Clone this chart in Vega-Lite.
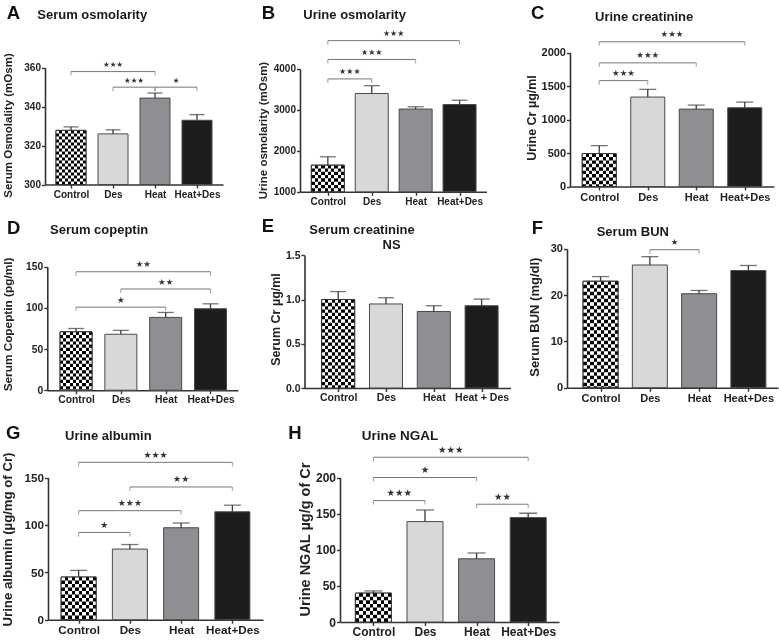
{
"$schema": "https://vega.github.io/schema/vega-lite/v6.json",
"padding": 0,
"background": "white",
"config": {
  "font": "Liberation Sans",
  "view": {"stroke": null, "fill": "white"},
  "axis": {"domainColor": "#333333", "domainWidth": 1.6, "tickColor": "#333333", "tickWidth": 1.4, "tickSize": 3.5, "labelColor": "#222222", "labelFontWeight": "bold", "labelFont": "Liberation Sans", "titleFont": "Liberation Sans", "titleFontWeight": "bold", "titleColor": "#222222", "grid": false, "labelPadding": 1, "labelFlush": false, "labelOverlap": false}
},
"datasets": {
  "bars": [
    {"panel": "A", "group": "Control", "value": 327.8, "err": 1.8},
    {"panel": "A", "group": "Des", "value": 326, "err": 2.1},
    {"panel": "A", "group": "Heat", "value": 344.4, "err": 2.6},
    {"panel": "A", "group": "Heat+Des", "value": 333, "err": 2.9},
    {"panel": "B", "group": "Control", "value": 1650, "err": 205},
    {"panel": "B", "group": "Des", "value": 3400, "err": 190},
    {"panel": "B", "group": "Heat", "value": 3020, "err": 55},
    {"panel": "B", "group": "Heat+Des", "value": 3130, "err": 105},
    {"panel": "C", "group": "Control", "value": 490, "err": 120},
    {"panel": "C", "group": "Des", "value": 1335, "err": 115},
    {"panel": "C", "group": "Heat", "value": 1155, "err": 60},
    {"panel": "C", "group": "Heat+Des", "value": 1175, "err": 85},
    {"panel": "D", "group": "Control", "value": 71, "err": 4},
    {"panel": "D", "group": "Des", "value": 68, "err": 4.8},
    {"panel": "D", "group": "Heat", "value": 88.5, "err": 6},
    {"panel": "D", "group": "Heat+Des", "value": 99, "err": 6},
    {"panel": "E", "group": "Control", "value": 1.0, "err": 0.09},
    {"panel": "E", "group": "Des", "value": 0.95, "err": 0.07},
    {"panel": "E", "group": "Heat", "value": 0.865, "err": 0.065},
    {"panel": "E", "group": "Heat + Des", "value": 0.93, "err": 0.075},
    {"panel": "F", "group": "Control", "value": 23, "err": 1},
    {"panel": "F", "group": "Des", "value": 26.5, "err": 1.8},
    {"panel": "F", "group": "Heat", "value": 20.3, "err": 0.7},
    {"panel": "F", "group": "Heat+Des", "value": 25.3, "err": 1.1},
    {"panel": "G", "group": "Control", "value": 45, "err": 7},
    {"panel": "G", "group": "Des", "value": 74.5, "err": 4.8},
    {"panel": "G", "group": "Heat", "value": 97, "err": 5},
    {"panel": "G", "group": "Heat+Des", "value": 113.8, "err": 7},
    {"panel": "H", "group": "Control", "value": 40, "err": 3},
    {"panel": "H", "group": "Des", "value": 139, "err": 16},
    {"panel": "H", "group": "Heat", "value": 87.5, "err": 8},
    {"panel": "H", "group": "Heat+Des", "value": 144.5, "err": 6}
  ],
  "brackets": [
    {"panel": "A", "from": "Control", "to": "Heat", "y": 358, "stars": "★★★"},
    {"panel": "A", "from": "Des", "to": "Heat", "y": 350, "stars": "★★★"},
    {"panel": "A", "from": "Heat", "to": "Heat+Des", "y": 350, "stars": "★"},
    {"panel": "B", "from": "Control", "to": "Heat+Des", "y": 4690, "stars": "★★★"},
    {"panel": "B", "from": "Control", "to": "Heat", "y": 4230, "stars": "★★★"},
    {"panel": "B", "from": "Control", "to": "Des", "y": 3755, "stars": "★★★"},
    {"panel": "C", "from": "Control", "to": "Heat+Des", "y": 2160, "stars": "★★★"},
    {"panel": "C", "from": "Control", "to": "Heat", "y": 1845, "stars": "★★★"},
    {"panel": "C", "from": "Control", "to": "Des", "y": 1580, "stars": "★★★"},
    {"panel": "D", "from": "Control", "to": "Heat+Des", "y": 144, "stars": "★★"},
    {"panel": "D", "from": "Des", "to": "Heat+Des", "y": 123, "stars": "★★"},
    {"panel": "D", "from": "Control", "to": "Heat", "y": 101, "stars": "★"},
    {"panel": "F", "from": "Des", "to": "Heat", "y": 29.8, "stars": "★"},
    {"panel": "G", "from": "Control", "to": "Heat+Des", "y": 166, "stars": "★★★"},
    {"panel": "G", "from": "Des", "to": "Heat+Des", "y": 140, "stars": "★★"},
    {"panel": "G", "from": "Control", "to": "Heat", "y": 115, "stars": "★★★"},
    {"panel": "G", "from": "Control", "to": "Des", "y": 92, "stars": "★"},
    {"panel": "H", "from": "Control", "to": "Heat+Des", "y": 228, "stars": "★★★"},
    {"panel": "H", "from": "Control", "to": "Heat", "y": 200, "stars": "★"},
    {"panel": "H", "from": "Control", "to": "Des", "y": 168, "stars": "★★★"},
    {"panel": "H", "from": "Heat", "to": "Heat+Des", "y": 163, "stars": "★★"}
  ]
},
"spacing": 0,
"vconcat": [
{"spacing": 0, "hconcat": [
{
 "width": 256, "height": 212,
 "data": {"name": "bars"},
 "transform": [{"filter": "datum.panel == 'A'"}, {"calculate": "datum.group == 'Control' ? 0 : datum.group == 'Des' ? 1 : datum.group == 'Heat' ? 2 : 3", "as": "i"}, {"calculate": "datum.value + datum.err", "as": "hi"}],
 "layer": [
  {"mark": {"type": "bar", "width": 30, "stroke": "#4a4a4a", "strokeWidth": 1},
   "encoding": {
    "x": {"field": "i", "type": "quantitative", "scale": {"domain": [-0.5, 3.5], "range": [45, 223], "nice": false, "zero": false}, "axis": {"title": null, "offset": -27.5, "values": [0, 1, 2, 3], "labelExpr": "['Control','Des','Heat','Heat+Des'][datum.value]", "labelFontSize": 10}},
    "y": {"field": "value", "type": "quantitative", "scale": {"domain": [300, 360], "range": [184.5, 67.7], "nice": false, "zero": false}, "axis": {"title": "Serum Osmolality (mOsm)", "offset": -45, "values": [300, 320, 340, 360], "format": "d", "labelFontSize": 10, "titleFontSize": 11.5, "titleX": -31.5, "titleY": 125}},
    "y2": {"datum": 300},
    "color": {"field": "group", "type": "nominal", "scale": {"domain": ["Control", "Des", "Heat", "Heat+Des", "Heat + Des"], "range": ["#ffffff", "#d7d8da", "#8e8f92", "#1d1d1f", "#1d1d1f"]}, "legend": null}
   }},
  {"transform": [{"filter": "datum.group == 'Control'"}], "mark": {"type": "bar", "width": 30, "fill": {"gradient":"linear","x1":0,"y1":0,"x2":1,"y2":0,"stops":[{"offset":0,"color":"#000"},{"offset":0.1,"color":"#000"},{"offset":0.1,"color":"#fff"},{"offset":0.2,"color":"#fff"},{"offset":0.2,"color":"#000"},{"offset":0.3,"color":"#000"},{"offset":0.3,"color":"#fff"},{"offset":0.4,"color":"#fff"},{"offset":0.4,"color":"#000"},{"offset":0.5,"color":"#000"},{"offset":0.5,"color":"#fff"},{"offset":0.6,"color":"#fff"},{"offset":0.6,"color":"#000"},{"offset":0.7,"color":"#000"},{"offset":0.7,"color":"#fff"},{"offset":0.8,"color":"#fff"},{"offset":0.8,"color":"#000"},{"offset":0.9,"color":"#000"},{"offset":0.9,"color":"#fff"},{"offset":1,"color":"#fff"}]}},
   "encoding": {"x": {"field": "i", "type": "quantitative"}, "y": {"field": "value", "type": "quantitative"}, "y2": {"datum": 300}}},
  {"transform": [{"filter": "datum.group == 'Control'"}], "mark": {"type": "rule", "stroke": "#ffffff", "strokeWidth": 30, "strokeDash": [3, 3], "blend": "difference"},
   "encoding": {"x": {"field": "i", "type": "quantitative"}, "y": {"field": "value", "type": "quantitative"}, "y2": {"datum": 300}}},
  {"transform": [{"filter": "datum.group == 'Control'"}], "mark": {"type": "bar", "width": 30, "fill": "transparent", "stroke": "#333333", "strokeWidth": 1},
   "encoding": {"x": {"field": "i", "type": "quantitative"}, "y": {"field": "value", "type": "quantitative"}, "y2": {"datum": 300}}},
  {"mark": {"type": "rule", "stroke": "#3a3a3a", "strokeWidth": 1.3},
   "encoding": {"x": {"field": "i", "type": "quantitative"}, "y": {"field": "value", "type": "quantitative"}, "y2": {"field": "hi"}}},
  {"mark": {"type": "tick", "orient": "horizontal", "size": 15, "thickness": 1.3, "color": "#3a3a3a"},
   "encoding": {"x": {"field": "i", "type": "quantitative"}, "y": {"field": "hi", "type": "quantitative"}}},
  {"data": {"name": "brackets"},
   "transform": [{"filter": "datum.panel == 'A'"}, {"calculate": "datum.from == 'Control' ? 0 : datum.from == 'Des' ? 1 : datum.from == 'Heat' ? 2 : 3", "as": "x1"}, {"calculate": "datum.to == 'Control' ? 0 : datum.to == 'Des' ? 1 : datum.to == 'Heat' ? 2 : 3", "as": "x2"}, {"calculate": "(datum.x1 + datum.x2) / 2", "as": "xm"}],
   "layer": [
    {"mark": {"type": "rule", "stroke": "#777777", "strokeWidth": 1}, "encoding": {"x": {"field": "x1", "type": "quantitative"}, "x2": {"field": "x2"}, "y": {"field": "y", "type": "quantitative"}}},
    {"mark": {"type": "tick", "orient": "vertical", "size": 4, "thickness": 1, "yOffset": 2, "color": "#777777"}, "encoding": {"x": {"field": "x1", "type": "quantitative"}, "y": {"field": "y", "type": "quantitative"}}},
    {"mark": {"type": "tick", "orient": "vertical", "size": 4, "thickness": 1, "yOffset": 2, "color": "#777777"}, "encoding": {"x": {"field": "x2", "type": "quantitative"}, "y": {"field": "y", "type": "quantitative"}}},
    {"mark": {"type": "text", "font": "DejaVu Sans", "fontSize": 7.5, "align": "center", "baseline": "alphabetic", "dy": -4.5, "color": "#333333"}, "encoding": {"x": {"field": "xm", "type": "quantitative"}, "y": {"field": "y", "type": "quantitative"}, "text": {"field": "stars"}}}
   ]},
  {"data": {"values": [{"t": "Serum osmolarity"}]}, "mark": {"type": "text", "align": "left", "baseline": "alphabetic", "fontSize": 13, "fontWeight": "bold", "dx": -12.7, "dy": -48.7, "color": "#1a1a1a"},
   "encoding": {"x": {"datum": -0.5, "type": "quantitative"}, "y": {"datum": 360, "type": "quantitative"}, "text": {"field": "t"}}},
  {"data": {"values": [{"letter": "A"}]}, "mark": {"type": "text", "align": "left", "baseline": "alphabetic", "fontSize": 18.5, "fontWeight": "bold", "dx": -43.3, "dy": -49.2, "color": "#111111"},
   "encoding": {"x": {"datum": -0.5, "type": "quantitative"}, "y": {"datum": 360, "type": "quantitative"}, "text": {"field": "letter"}}}
 ]
},
{
 "width": 268, "height": 212,
 "data": {"name": "bars"},
 "transform": [{"filter": "datum.panel == 'B'"}, {"calculate": "datum.group == 'Control' ? 0 : datum.group == 'Des' ? 1 : datum.group == 'Heat' ? 2 : 3", "as": "i"}, {"calculate": "datum.value + datum.err", "as": "hi"}],
 "layer": [
  {"mark": {"type": "bar", "width": 33, "stroke": "#4a4a4a", "strokeWidth": 1},
   "encoding": {
    "x": {"field": "i", "type": "quantitative", "scale": {"domain": [-0.52, 3.5], "range": [44, 230.5], "nice": false, "zero": false}, "axis": {"title": null, "offset": -20.2, "values": [0, 1, 2, 3], "labelExpr": "['Control','Des','Heat','Heat+Des'][datum.value]", "labelFontSize": 10}},
    "y": {"field": "value", "type": "quantitative", "scale": {"domain": [1000, 4000], "range": [191.8, 68.9], "nice": false, "zero": false}, "axis": {"title": "Urine osmolarity (mOsm)", "values": [1000, 2000, 3000, 4000], "format": "d", "offset": -44, "labelFontSize": 10, "titleFontSize": 11.5, "titleX": -32, "titleY": 130}},
    "y2": {"datum": 1000},
    "color": {"field": "group", "type": "nominal", "scale": {"domain": ["Control", "Des", "Heat", "Heat+Des", "Heat + Des"], "range": ["#ffffff", "#d7d8da", "#8e8f92", "#1d1d1f", "#1d1d1f"]}, "legend": null}
   }},
  {"transform": [{"filter": "datum.group == 'Control'"}], "mark": {"type": "bar", "width": 33, "fill": {"gradient":"linear","x1":0,"y1":0,"x2":1,"y2":0,"stops":[{"offset":0,"color":"#000"},{"offset":0.1,"color":"#000"},{"offset":0.1,"color":"#fff"},{"offset":0.2,"color":"#fff"},{"offset":0.2,"color":"#000"},{"offset":0.3,"color":"#000"},{"offset":0.3,"color":"#fff"},{"offset":0.4,"color":"#fff"},{"offset":0.4,"color":"#000"},{"offset":0.5,"color":"#000"},{"offset":0.5,"color":"#fff"},{"offset":0.6,"color":"#fff"},{"offset":0.6,"color":"#000"},{"offset":0.7,"color":"#000"},{"offset":0.7,"color":"#fff"},{"offset":0.8,"color":"#fff"},{"offset":0.8,"color":"#000"},{"offset":0.9,"color":"#000"},{"offset":0.9,"color":"#fff"},{"offset":1,"color":"#fff"}]}},
   "encoding": {"x": {"field": "i", "type": "quantitative"}, "y": {"field": "value", "type": "quantitative"}, "y2": {"datum": 1000}}},
  {"transform": [{"filter": "datum.group == 'Control'"}], "mark": {"type": "rule", "stroke": "#ffffff", "strokeWidth": 33, "strokeDash": [3.3, 3.3], "blend": "difference"},
   "encoding": {"x": {"field": "i", "type": "quantitative"}, "y": {"field": "value", "type": "quantitative"}, "y2": {"datum": 1000}}},
  {"transform": [{"filter": "datum.group == 'Control'"}], "mark": {"type": "bar", "width": 33, "fill": "transparent", "stroke": "#333333", "strokeWidth": 1},
   "encoding": {"x": {"field": "i", "type": "quantitative"}, "y": {"field": "value", "type": "quantitative"}, "y2": {"datum": 1000}}},
  {"mark": {"type": "rule", "stroke": "#3a3a3a", "strokeWidth": 1.3},
   "encoding": {"x": {"field": "i", "type": "quantitative"}, "y": {"field": "value", "type": "quantitative"}, "y2": {"field": "hi"}}},
  {"mark": {"type": "tick", "orient": "horizontal", "size": 16, "thickness": 1.3, "color": "#3a3a3a"},
   "encoding": {"x": {"field": "i", "type": "quantitative"}, "y": {"field": "hi", "type": "quantitative"}}},
  {"data": {"name": "brackets"},
   "transform": [{"filter": "datum.panel == 'B'"}, {"calculate": "datum.from == 'Control' ? 0 : datum.from == 'Des' ? 1 : datum.from == 'Heat' ? 2 : 3", "as": "x1"}, {"calculate": "datum.to == 'Control' ? 0 : datum.to == 'Des' ? 1 : datum.to == 'Heat' ? 2 : 3", "as": "x2"}, {"calculate": "(datum.x1 + datum.x2) / 2", "as": "xm"}],
   "layer": [
    {"mark": {"type": "rule", "stroke": "#777777", "strokeWidth": 1}, "encoding": {"x": {"field": "x1", "type": "quantitative"}, "x2": {"field": "x2"}, "y": {"field": "y", "type": "quantitative"}}},
    {"mark": {"type": "tick", "orient": "vertical", "size": 4, "thickness": 1, "yOffset": 2, "color": "#777777"}, "encoding": {"x": {"field": "x1", "type": "quantitative"}, "y": {"field": "y", "type": "quantitative"}}},
    {"mark": {"type": "tick", "orient": "vertical", "size": 4, "thickness": 1, "yOffset": 2, "color": "#777777"}, "encoding": {"x": {"field": "x2", "type": "quantitative"}, "y": {"field": "y", "type": "quantitative"}}},
    {"mark": {"type": "text", "font": "DejaVu Sans", "fontSize": 8, "align": "center", "baseline": "alphabetic", "dy": -4.5, "color": "#333333"}, "encoding": {"x": {"field": "xm", "type": "quantitative"}, "y": {"field": "y", "type": "quantitative"}, "text": {"field": "stars"}}}
   ]},
  {"data": {"values": [{"t": "Urine osmolarity"}]}, "mark": {"type": "text", "align": "left", "baseline": "alphabetic", "fontSize": 13, "fontWeight": "bold", "dx": -1.7, "dy": -49.9, "color": "#1a1a1a"},
   "encoding": {"x": {"datum": -0.52, "type": "quantitative"}, "y": {"datum": 4000, "type": "quantitative"}, "text": {"field": "t"}}},
  {"data": {"values": [{"letter": "B"}]}, "mark": {"type": "text", "align": "left", "baseline": "alphabetic", "fontSize": 18.5, "fontWeight": "bold", "dx": -43.3, "dy": -50.4, "color": "#111111"},
   "encoding": {"x": {"datum": -0.52, "type": "quantitative"}, "y": {"datum": 4000, "type": "quantitative"}, "text": {"field": "letter"}}}
 ]
},
{
 "width": 255, "height": 212,
 "data": {"name": "bars"},
 "transform": [{"filter": "datum.panel == 'C'"}, {"calculate": "datum.group == 'Control' ? 0 : datum.group == 'Des' ? 1 : datum.group == 'Heat' ? 2 : 3", "as": "i"}, {"calculate": "datum.value + datum.err", "as": "hi"}],
 "layer": [
  {"mark": {"type": "bar", "width": 34, "stroke": "#4a4a4a", "strokeWidth": 1},
   "encoding": {
    "x": {"field": "i", "type": "quantitative", "scale": {"domain": [-0.5, 3.5], "range": [46, 250], "nice": false, "zero": false}, "axis": {"title": null, "offset": -25.5, "values": [0, 1, 2, 3], "labelExpr": "['Control','Des','Heat','Heat+Des'][datum.value]", "labelFontSize": 11}},
    "y": {"field": "value", "type": "quantitative", "scale": {"domain": [0, 2000], "range": [186.5, 52.5], "nice": false, "zero": false}, "axis": {"title": "Urine Cr  µg/ml", "values": [0, 500, 1000, 1500, 2000], "format": "d", "offset": -46, "labelFontSize": 11, "titleFontSize": 12.5, "titleX": -31.5, "titleY": 117.5}},
    "y2": {"datum": 0},
    "color": {"field": "group", "type": "nominal", "scale": {"domain": ["Control", "Des", "Heat", "Heat+Des", "Heat + Des"], "range": ["#ffffff", "#d7d8da", "#8e8f92", "#1d1d1f", "#1d1d1f"]}, "legend": null}
   }},
  {"transform": [{"filter": "datum.group == 'Control'"}], "mark": {"type": "bar", "width": 34, "fill": {"gradient":"linear","x1":0,"y1":0,"x2":1,"y2":0,"stops":[{"offset":0,"color":"#000"},{"offset":0.1,"color":"#000"},{"offset":0.1,"color":"#fff"},{"offset":0.2,"color":"#fff"},{"offset":0.2,"color":"#000"},{"offset":0.3,"color":"#000"},{"offset":0.3,"color":"#fff"},{"offset":0.4,"color":"#fff"},{"offset":0.4,"color":"#000"},{"offset":0.5,"color":"#000"},{"offset":0.5,"color":"#fff"},{"offset":0.6,"color":"#fff"},{"offset":0.6,"color":"#000"},{"offset":0.7,"color":"#000"},{"offset":0.7,"color":"#fff"},{"offset":0.8,"color":"#fff"},{"offset":0.8,"color":"#000"},{"offset":0.9,"color":"#000"},{"offset":0.9,"color":"#fff"},{"offset":1,"color":"#fff"}]}},
   "encoding": {"x": {"field": "i", "type": "quantitative"}, "y": {"field": "value", "type": "quantitative"}, "y2": {"datum": 0}}},
  {"transform": [{"filter": "datum.group == 'Control'"}], "mark": {"type": "rule", "stroke": "#ffffff", "strokeWidth": 34, "strokeDash": [3.4, 3.4], "blend": "difference"},
   "encoding": {"x": {"field": "i", "type": "quantitative"}, "y": {"field": "value", "type": "quantitative"}, "y2": {"datum": 0}}},
  {"transform": [{"filter": "datum.group == 'Control'"}], "mark": {"type": "bar", "width": 34, "fill": "transparent", "stroke": "#333333", "strokeWidth": 1},
   "encoding": {"x": {"field": "i", "type": "quantitative"}, "y": {"field": "value", "type": "quantitative"}, "y2": {"datum": 0}}},
  {"mark": {"type": "rule", "stroke": "#3a3a3a", "strokeWidth": 1.3},
   "encoding": {"x": {"field": "i", "type": "quantitative"}, "y": {"field": "value", "type": "quantitative"}, "y2": {"field": "hi"}}},
  {"mark": {"type": "tick", "orient": "horizontal", "size": 17, "thickness": 1.3, "color": "#3a3a3a"},
   "encoding": {"x": {"field": "i", "type": "quantitative"}, "y": {"field": "hi", "type": "quantitative"}}},
  {"data": {"name": "brackets"},
   "transform": [{"filter": "datum.panel == 'C'"}, {"calculate": "datum.from == 'Control' ? 0 : datum.from == 'Des' ? 1 : datum.from == 'Heat' ? 2 : 3", "as": "x1"}, {"calculate": "datum.to == 'Control' ? 0 : datum.to == 'Des' ? 1 : datum.to == 'Heat' ? 2 : 3", "as": "x2"}, {"calculate": "(datum.x1 + datum.x2) / 2", "as": "xm"}],
   "layer": [
    {"mark": {"type": "rule", "stroke": "#777777", "strokeWidth": 1}, "encoding": {"x": {"field": "x1", "type": "quantitative"}, "x2": {"field": "x2"}, "y": {"field": "y", "type": "quantitative"}}},
    {"mark": {"type": "tick", "orient": "vertical", "size": 4, "thickness": 1, "yOffset": 2, "color": "#777777"}, "encoding": {"x": {"field": "x1", "type": "quantitative"}, "y": {"field": "y", "type": "quantitative"}}},
    {"mark": {"type": "tick", "orient": "vertical", "size": 4, "thickness": 1, "yOffset": 2, "color": "#777777"}, "encoding": {"x": {"field": "x2", "type": "quantitative"}, "y": {"field": "y", "type": "quantitative"}}},
    {"mark": {"type": "text", "font": "DejaVu Sans", "fontSize": 8.5, "align": "center", "baseline": "alphabetic", "dy": -4.5, "color": "#333333"}, "encoding": {"x": {"field": "xm", "type": "quantitative"}, "y": {"field": "y", "type": "quantitative"}, "text": {"field": "stars"}}}
   ]},
  {"data": {"values": [{"t": "Urine creatinine"}]}, "mark": {"type": "text", "align": "left", "baseline": "alphabetic", "fontSize": 13, "fontWeight": "bold", "dx": 20, "dy": -32, "color": "#1a1a1a"},
   "encoding": {"x": {"datum": -0.5, "type": "quantitative"}, "y": {"datum": 2000, "type": "quantitative"}, "text": {"field": "t"}}},
  {"data": {"values": [{"letter": "C"}]}, "mark": {"type": "text", "align": "left", "baseline": "alphabetic", "fontSize": 18.5, "fontWeight": "bold", "dx": -44, "dy": -34, "color": "#111111"},
   "encoding": {"x": {"datum": -0.5, "type": "quantitative"}, "y": {"datum": 2000, "type": "quantitative"}, "text": {"field": "letter"}}}
 ]
}
]},
{"spacing": 0, "hconcat": [
{
 "width": 256, "height": 200,
 "data": {"name": "bars"},
 "transform": [{"filter": "datum.panel == 'D'"}, {"calculate": "datum.group == 'Control' ? 0 : datum.group == 'Des' ? 1 : datum.group == 'Heat' ? 2 : 3", "as": "i"}, {"calculate": "datum.value + datum.err", "as": "hi"}],
 "layer": [
  {"mark": {"type": "bar", "width": 32, "stroke": "#4a4a4a", "strokeWidth": 1},
   "encoding": {
    "x": {"field": "i", "type": "quantitative", "scale": {"domain": [-0.53, 3.5], "range": [47.3, 237.9], "nice": false, "zero": false}, "axis": {"title": null, "offset": -21.8, "values": [0, 1, 2, 3], "labelExpr": "['Control','Des','Heat','Heat+Des'][datum.value]", "labelFontSize": 10.3}},
    "y": {"field": "value", "type": "quantitative", "scale": {"domain": [0, 150], "range": [178.2, 54.8], "nice": false, "zero": false}, "axis": {"title": "Serum Copeptin (pg/ml)", "values": [0, 50, 100, 150], "format": "d", "offset": -47.3, "labelFontSize": 10.3, "titleFontSize": 11.8, "titleX": -34, "titleY": 112}},
    "y2": {"datum": 0},
    "color": {"field": "group", "type": "nominal", "scale": {"domain": ["Control", "Des", "Heat", "Heat+Des", "Heat + Des"], "range": ["#ffffff", "#d7d8da", "#8e8f92", "#1d1d1f", "#1d1d1f"]}, "legend": null}
   }},
  {"transform": [{"filter": "datum.group == 'Control'"}], "mark": {"type": "bar", "width": 32, "fill": {"gradient":"linear","x1":0,"y1":0,"x2":1,"y2":0,"stops":[{"offset":0,"color":"#000"},{"offset":0.1,"color":"#000"},{"offset":0.1,"color":"#fff"},{"offset":0.2,"color":"#fff"},{"offset":0.2,"color":"#000"},{"offset":0.3,"color":"#000"},{"offset":0.3,"color":"#fff"},{"offset":0.4,"color":"#fff"},{"offset":0.4,"color":"#000"},{"offset":0.5,"color":"#000"},{"offset":0.5,"color":"#fff"},{"offset":0.6,"color":"#fff"},{"offset":0.6,"color":"#000"},{"offset":0.7,"color":"#000"},{"offset":0.7,"color":"#fff"},{"offset":0.8,"color":"#fff"},{"offset":0.8,"color":"#000"},{"offset":0.9,"color":"#000"},{"offset":0.9,"color":"#fff"},{"offset":1,"color":"#fff"}]}},
   "encoding": {"x": {"field": "i", "type": "quantitative"}, "y": {"field": "value", "type": "quantitative"}, "y2": {"datum": 0}}},
  {"transform": [{"filter": "datum.group == 'Control'"}], "mark": {"type": "rule", "stroke": "#ffffff", "strokeWidth": 32, "strokeDash": [3.2, 3.2], "blend": "difference"},
   "encoding": {"x": {"field": "i", "type": "quantitative"}, "y": {"field": "value", "type": "quantitative"}, "y2": {"datum": 0}}},
  {"transform": [{"filter": "datum.group == 'Control'"}], "mark": {"type": "bar", "width": 32, "fill": "transparent", "stroke": "#333333", "strokeWidth": 1},
   "encoding": {"x": {"field": "i", "type": "quantitative"}, "y": {"field": "value", "type": "quantitative"}, "y2": {"datum": 0}}},
  {"mark": {"type": "rule", "stroke": "#3a3a3a", "strokeWidth": 1.3},
   "encoding": {"x": {"field": "i", "type": "quantitative"}, "y": {"field": "value", "type": "quantitative"}, "y2": {"field": "hi"}}},
  {"mark": {"type": "tick", "orient": "horizontal", "size": 16, "thickness": 1.3, "color": "#3a3a3a"},
   "encoding": {"x": {"field": "i", "type": "quantitative"}, "y": {"field": "hi", "type": "quantitative"}}},
  {"data": {"name": "brackets"},
   "transform": [{"filter": "datum.panel == 'D'"}, {"calculate": "datum.from == 'Control' ? 0 : datum.from == 'Des' ? 1 : datum.from == 'Heat' ? 2 : 3", "as": "x1"}, {"calculate": "datum.to == 'Control' ? 0 : datum.to == 'Des' ? 1 : datum.to == 'Heat' ? 2 : 3", "as": "x2"}, {"calculate": "(datum.x1 + datum.x2) / 2", "as": "xm"}],
   "layer": [
    {"mark": {"type": "rule", "stroke": "#777777", "strokeWidth": 1}, "encoding": {"x": {"field": "x1", "type": "quantitative"}, "x2": {"field": "x2"}, "y": {"field": "y", "type": "quantitative"}}},
    {"mark": {"type": "tick", "orient": "vertical", "size": 4, "thickness": 1, "yOffset": 2, "color": "#777777"}, "encoding": {"x": {"field": "x1", "type": "quantitative"}, "y": {"field": "y", "type": "quantitative"}}},
    {"mark": {"type": "tick", "orient": "vertical", "size": 4, "thickness": 1, "yOffset": 2, "color": "#777777"}, "encoding": {"x": {"field": "x2", "type": "quantitative"}, "y": {"field": "y", "type": "quantitative"}}},
    {"mark": {"type": "text", "font": "DejaVu Sans", "fontSize": 8.5, "align": "center", "baseline": "alphabetic", "dy": -4.5, "color": "#333333"}, "encoding": {"x": {"field": "xm", "type": "quantitative"}, "y": {"field": "y", "type": "quantitative"}, "text": {"field": "stars"}}}
   ]},
  {"data": {"values": [{"t": "Serum copeptin"}]}, "mark": {"type": "text", "align": "left", "baseline": "alphabetic", "fontSize": 13, "fontWeight": "bold", "dx": -2.3, "dy": -32.5, "color": "#1a1a1a"},
   "encoding": {"x": {"datum": -0.53, "type": "quantitative"}, "y": {"datum": 150, "type": "quantitative"}, "text": {"field": "t"}}},
  {"data": {"values": [{"letter": "D"}]}, "mark": {"type": "text", "align": "left", "baseline": "alphabetic", "fontSize": 18.5, "fontWeight": "bold", "dx": -45.3, "dy": -33.3, "color": "#111111"},
   "encoding": {"x": {"datum": -0.53, "type": "quantitative"}, "y": {"datum": 150, "type": "quantitative"}, "text": {"field": "letter"}}}
 ]
},
{
 "width": 268, "height": 200,
 "data": {"name": "bars"},
 "transform": [{"filter": "datum.panel == 'E'"}, {"calculate": "datum.group == 'Control' ? 0 : datum.group == 'Des' ? 1 : datum.group == 'Heat' ? 2 : 3", "as": "i"}, {"calculate": "datum.value + datum.err", "as": "hi"}],
 "layer": [
  {"mark": {"type": "bar", "width": 33, "stroke": "#4a4a4a", "strokeWidth": 1},
   "encoding": {
    "x": {"field": "i", "type": "quantitative", "scale": {"domain": [-0.6, 3.5], "range": [48.5, 254.5], "nice": false, "zero": false}, "axis": {"title": null, "offset": -24, "values": [0, 1, 2, 3], "labelExpr": "['Control','Des','Heat','Heat + Des'][datum.value]", "labelFontSize": 10.5}},
    "y": {"field": "value", "type": "quantitative", "scale": {"domain": [0, 1.5], "range": [176, 43.3], "nice": false, "zero": false}, "axis": {"title": "Serum Cr  µg/ml", "values": [0, 0.5, 1, 1.5], "format": ".1f", "offset": -48.5, "labelFontSize": 10.5, "titleFontSize": 12.5, "titleX": -22.5, "titleY": 107}},
    "y2": {"datum": 0},
    "color": {"field": "group", "type": "nominal", "scale": {"domain": ["Control", "Des", "Heat", "Heat+Des", "Heat + Des"], "range": ["#ffffff", "#d7d8da", "#8e8f92", "#1d1d1f", "#1d1d1f"]}, "legend": null}
   }},
  {"transform": [{"filter": "datum.group == 'Control'"}], "mark": {"type": "bar", "width": 33, "fill": {"gradient":"linear","x1":0,"y1":0,"x2":1,"y2":0,"stops":[{"offset":0,"color":"#000"},{"offset":0.1,"color":"#000"},{"offset":0.1,"color":"#fff"},{"offset":0.2,"color":"#fff"},{"offset":0.2,"color":"#000"},{"offset":0.3,"color":"#000"},{"offset":0.3,"color":"#fff"},{"offset":0.4,"color":"#fff"},{"offset":0.4,"color":"#000"},{"offset":0.5,"color":"#000"},{"offset":0.5,"color":"#fff"},{"offset":0.6,"color":"#fff"},{"offset":0.6,"color":"#000"},{"offset":0.7,"color":"#000"},{"offset":0.7,"color":"#fff"},{"offset":0.8,"color":"#fff"},{"offset":0.8,"color":"#000"},{"offset":0.9,"color":"#000"},{"offset":0.9,"color":"#fff"},{"offset":1,"color":"#fff"}]}},
   "encoding": {"x": {"field": "i", "type": "quantitative"}, "y": {"field": "value", "type": "quantitative"}, "y2": {"datum": 0}}},
  {"transform": [{"filter": "datum.group == 'Control'"}], "mark": {"type": "rule", "stroke": "#ffffff", "strokeWidth": 33, "strokeDash": [3.3, 3.3], "blend": "difference"},
   "encoding": {"x": {"field": "i", "type": "quantitative"}, "y": {"field": "value", "type": "quantitative"}, "y2": {"datum": 0}}},
  {"transform": [{"filter": "datum.group == 'Control'"}], "mark": {"type": "bar", "width": 33, "fill": "transparent", "stroke": "#333333", "strokeWidth": 1},
   "encoding": {"x": {"field": "i", "type": "quantitative"}, "y": {"field": "value", "type": "quantitative"}, "y2": {"datum": 0}}},
  {"mark": {"type": "rule", "stroke": "#3a3a3a", "strokeWidth": 1.3},
   "encoding": {"x": {"field": "i", "type": "quantitative"}, "y": {"field": "value", "type": "quantitative"}, "y2": {"field": "hi"}}},
  {"mark": {"type": "tick", "orient": "horizontal", "size": 16, "thickness": 1.3, "color": "#3a3a3a"},
   "encoding": {"x": {"field": "i", "type": "quantitative"}, "y": {"field": "hi", "type": "quantitative"}}},
  {"data": {"values": [{"label": "NS"}]}, "mark": {"type": "text", "align": "center", "baseline": "alphabetic", "fontSize": 13, "fontWeight": "bold", "dx": 5.6, "dy": -6.2, "color": "#1a1a1a"},
   "encoding": {"x": {"datum": 1, "type": "quantitative"}, "y": {"datum": 1.5, "type": "quantitative"}, "text": {"field": "label"}}},
  {"data": {"values": [{"t": "Serum creatinine"}]}, "mark": {"type": "text", "align": "left", "baseline": "alphabetic", "fontSize": 13, "fontWeight": "bold", "dx": -0.2, "dy": -21.6, "color": "#1a1a1a"},
   "encoding": {"x": {"datum": -0.6, "type": "quantitative"}, "y": {"datum": 1.5, "type": "quantitative"}, "text": {"field": "t"}}},
  {"data": {"values": [{"letter": "E"}]}, "mark": {"type": "text", "align": "left", "baseline": "alphabetic", "fontSize": 18.5, "fontWeight": "bold", "dx": -47.8, "dy": -23.3, "color": "#111111"},
   "encoding": {"x": {"datum": -0.6, "type": "quantitative"}, "y": {"datum": 1.5, "type": "quantitative"}, "text": {"field": "letter"}}}
 ]
},
{
 "width": 255, "height": 200,
 "data": {"name": "bars"},
 "transform": [{"filter": "datum.panel == 'F'"}, {"calculate": "datum.group == 'Control' ? 0 : datum.group == 'Des' ? 1 : datum.group == 'Heat' ? 2 : 3", "as": "i"}, {"calculate": "datum.value + datum.err", "as": "hi"}],
 "layer": [
  {"mark": {"type": "bar", "width": 35, "stroke": "#4a4a4a", "strokeWidth": 1},
   "encoding": {
    "x": {"field": "i", "type": "quantitative", "scale": {"domain": [-0.58, 3.5], "range": [43, 254], "nice": false, "zero": false}, "axis": {"title": null, "offset": -24.3, "values": [0, 1, 2, 3], "labelExpr": "['Control','Des','Heat','Heat+Des'][datum.value]", "labelFontSize": 11}},
    "y": {"field": "value", "type": "quantitative", "scale": {"domain": [0, 30], "range": [175.7, 36.8], "nice": false, "zero": false}, "axis": {"title": "Serum BUN (mg/dl)", "values": [0, 10, 20, 30], "format": "d", "offset": -43, "labelFontSize": 11, "titleFontSize": 13, "titleX": -25.7, "titleY": 104.7}},
    "y2": {"datum": 0},
    "color": {"field": "group", "type": "nominal", "scale": {"domain": ["Control", "Des", "Heat", "Heat+Des", "Heat + Des"], "range": ["#ffffff", "#d7d8da", "#8e8f92", "#1d1d1f", "#1d1d1f"]}, "legend": null}
   }},
  {"transform": [{"filter": "datum.group == 'Control'"}], "mark": {"type": "bar", "width": 35, "fill": {"gradient":"linear","x1":0,"y1":0,"x2":1,"y2":0,"stops":[{"offset":0,"color":"#000"},{"offset":0.1,"color":"#000"},{"offset":0.1,"color":"#fff"},{"offset":0.2,"color":"#fff"},{"offset":0.2,"color":"#000"},{"offset":0.3,"color":"#000"},{"offset":0.3,"color":"#fff"},{"offset":0.4,"color":"#fff"},{"offset":0.4,"color":"#000"},{"offset":0.5,"color":"#000"},{"offset":0.5,"color":"#fff"},{"offset":0.6,"color":"#fff"},{"offset":0.6,"color":"#000"},{"offset":0.7,"color":"#000"},{"offset":0.7,"color":"#fff"},{"offset":0.8,"color":"#fff"},{"offset":0.8,"color":"#000"},{"offset":0.9,"color":"#000"},{"offset":0.9,"color":"#fff"},{"offset":1,"color":"#fff"}]}},
   "encoding": {"x": {"field": "i", "type": "quantitative"}, "y": {"field": "value", "type": "quantitative"}, "y2": {"datum": 0}}},
  {"transform": [{"filter": "datum.group == 'Control'"}], "mark": {"type": "rule", "stroke": "#ffffff", "strokeWidth": 35, "strokeDash": [3.5, 3.5], "blend": "difference"},
   "encoding": {"x": {"field": "i", "type": "quantitative"}, "y": {"field": "value", "type": "quantitative"}, "y2": {"datum": 0}}},
  {"transform": [{"filter": "datum.group == 'Control'"}], "mark": {"type": "bar", "width": 35, "fill": "transparent", "stroke": "#333333", "strokeWidth": 1},
   "encoding": {"x": {"field": "i", "type": "quantitative"}, "y": {"field": "value", "type": "quantitative"}, "y2": {"datum": 0}}},
  {"mark": {"type": "rule", "stroke": "#3a3a3a", "strokeWidth": 1.3},
   "encoding": {"x": {"field": "i", "type": "quantitative"}, "y": {"field": "value", "type": "quantitative"}, "y2": {"field": "hi"}}},
  {"mark": {"type": "tick", "orient": "horizontal", "size": 17, "thickness": 1.3, "color": "#3a3a3a"},
   "encoding": {"x": {"field": "i", "type": "quantitative"}, "y": {"field": "hi", "type": "quantitative"}}},
  {"data": {"name": "brackets"},
   "transform": [{"filter": "datum.panel == 'F'"}, {"calculate": "datum.from == 'Control' ? 0 : datum.from == 'Des' ? 1 : datum.from == 'Heat' ? 2 : 3", "as": "x1"}, {"calculate": "datum.to == 'Control' ? 0 : datum.to == 'Des' ? 1 : datum.to == 'Heat' ? 2 : 3", "as": "x2"}, {"calculate": "(datum.x1 + datum.x2) / 2", "as": "xm"}],
   "layer": [
    {"mark": {"type": "rule", "stroke": "#777777", "strokeWidth": 1}, "encoding": {"x": {"field": "x1", "type": "quantitative"}, "x2": {"field": "x2"}, "y": {"field": "y", "type": "quantitative"}}},
    {"mark": {"type": "tick", "orient": "vertical", "size": 4, "thickness": 1, "yOffset": 2, "color": "#777777"}, "encoding": {"x": {"field": "x1", "type": "quantitative"}, "y": {"field": "y", "type": "quantitative"}}},
    {"mark": {"type": "tick", "orient": "vertical", "size": 4, "thickness": 1, "yOffset": 2, "color": "#777777"}, "encoding": {"x": {"field": "x2", "type": "quantitative"}, "y": {"field": "y", "type": "quantitative"}}},
    {"mark": {"type": "text", "font": "DejaVu Sans", "fontSize": 8.5, "align": "center", "baseline": "alphabetic", "dy": -4.5, "color": "#333333"}, "encoding": {"x": {"field": "xm", "type": "quantitative"}, "y": {"field": "y", "type": "quantitative"}, "text": {"field": "stars"}}}
   ]},
  {"data": {"values": [{"t": "Serum BUN"}]}, "mark": {"type": "text", "align": "left", "baseline": "alphabetic", "fontSize": 13, "fontWeight": "bold", "dx": 24.7, "dy": -13.3, "color": "#1a1a1a"},
   "encoding": {"x": {"datum": -0.58, "type": "quantitative"}, "y": {"datum": 30, "type": "quantitative"}, "text": {"field": "t"}}},
  {"data": {"values": [{"letter": "F"}]}, "mark": {"type": "text", "align": "left", "baseline": "alphabetic", "fontSize": 18.5, "fontWeight": "bold", "dx": -40.3, "dy": -14.8, "color": "#111111"},
   "encoding": {"x": {"datum": -0.58, "type": "quantitative"}, "y": {"datum": 30, "type": "quantitative"}, "text": {"field": "letter"}}}
 ]
}
]},
{"spacing": 0, "hconcat": [
{
 "width": 280, "height": 230,
 "data": {"name": "bars"},
 "transform": [{"filter": "datum.panel == 'G'"}, {"calculate": "datum.group == 'Control' ? 0 : datum.group == 'Des' ? 1 : datum.group == 'Heat' ? 2 : 3", "as": "i"}, {"calculate": "datum.value + datum.err", "as": "hi"}],
 "layer": [
  {"mark": {"type": "bar", "width": 35, "stroke": "#4a4a4a", "strokeWidth": 1},
   "encoding": {
    "x": {"field": "i", "type": "quantitative", "scale": {"domain": [-0.5, 3.5], "range": [48, 263], "nice": false, "zero": false}, "axis": {"title": null, "offset": -22.3, "values": [0, 1, 2, 3], "labelExpr": "['Control','Des','Heat','Heat+Des'][datum.value]", "labelFontSize": 11.7}},
    "y": {"field": "value", "type": "quantitative", "scale": {"domain": [0, 150], "range": [207.7, 65.5], "nice": false, "zero": false}, "axis": {"title": "Urine albumin (µg/mg of Cr)", "values": [0, 50, 100, 150], "format": "d", "offset": -48, "labelFontSize": 11.7, "titleFontSize": 13.2, "titleX": -33.2, "titleY": 127}},
    "y2": {"datum": 0},
    "color": {"field": "group", "type": "nominal", "scale": {"domain": ["Control", "Des", "Heat", "Heat+Des", "Heat + Des"], "range": ["#ffffff", "#d7d8da", "#8e8f92", "#1d1d1f", "#1d1d1f"]}, "legend": null}
   }},
  {"transform": [{"filter": "datum.group == 'Control'"}], "mark": {"type": "bar", "width": 35, "fill": {"gradient":"linear","x1":0,"y1":0,"x2":1,"y2":0,"stops":[{"offset":0,"color":"#000"},{"offset":0.1,"color":"#000"},{"offset":0.1,"color":"#fff"},{"offset":0.2,"color":"#fff"},{"offset":0.2,"color":"#000"},{"offset":0.3,"color":"#000"},{"offset":0.3,"color":"#fff"},{"offset":0.4,"color":"#fff"},{"offset":0.4,"color":"#000"},{"offset":0.5,"color":"#000"},{"offset":0.5,"color":"#fff"},{"offset":0.6,"color":"#fff"},{"offset":0.6,"color":"#000"},{"offset":0.7,"color":"#000"},{"offset":0.7,"color":"#fff"},{"offset":0.8,"color":"#fff"},{"offset":0.8,"color":"#000"},{"offset":0.9,"color":"#000"},{"offset":0.9,"color":"#fff"},{"offset":1,"color":"#fff"}]}},
   "encoding": {"x": {"field": "i", "type": "quantitative"}, "y": {"field": "value", "type": "quantitative"}, "y2": {"datum": 0}}},
  {"transform": [{"filter": "datum.group == 'Control'"}], "mark": {"type": "rule", "stroke": "#ffffff", "strokeWidth": 35, "strokeDash": [3.5, 3.5], "blend": "difference"},
   "encoding": {"x": {"field": "i", "type": "quantitative"}, "y": {"field": "value", "type": "quantitative"}, "y2": {"datum": 0}}},
  {"transform": [{"filter": "datum.group == 'Control'"}], "mark": {"type": "bar", "width": 35, "fill": "transparent", "stroke": "#333333", "strokeWidth": 1},
   "encoding": {"x": {"field": "i", "type": "quantitative"}, "y": {"field": "value", "type": "quantitative"}, "y2": {"datum": 0}}},
  {"mark": {"type": "rule", "stroke": "#3a3a3a", "strokeWidth": 1.3},
   "encoding": {"x": {"field": "i", "type": "quantitative"}, "y": {"field": "value", "type": "quantitative"}, "y2": {"field": "hi"}}},
  {"mark": {"type": "tick", "orient": "horizontal", "size": 17, "thickness": 1.3, "color": "#3a3a3a"},
   "encoding": {"x": {"field": "i", "type": "quantitative"}, "y": {"field": "hi", "type": "quantitative"}}},
  {"data": {"name": "brackets"},
   "transform": [{"filter": "datum.panel == 'G'"}, {"calculate": "datum.from == 'Control' ? 0 : datum.from == 'Des' ? 1 : datum.from == 'Heat' ? 2 : 3", "as": "x1"}, {"calculate": "datum.to == 'Control' ? 0 : datum.to == 'Des' ? 1 : datum.to == 'Heat' ? 2 : 3", "as": "x2"}, {"calculate": "(datum.x1 + datum.x2) / 2", "as": "xm"}],
   "layer": [
    {"mark": {"type": "rule", "stroke": "#777777", "strokeWidth": 1}, "encoding": {"x": {"field": "x1", "type": "quantitative"}, "x2": {"field": "x2"}, "y": {"field": "y", "type": "quantitative"}}},
    {"mark": {"type": "tick", "orient": "vertical", "size": 4, "thickness": 1, "yOffset": 2, "color": "#777777"}, "encoding": {"x": {"field": "x1", "type": "quantitative"}, "y": {"field": "y", "type": "quantitative"}}},
    {"mark": {"type": "tick", "orient": "vertical", "size": 4, "thickness": 1, "yOffset": 2, "color": "#777777"}, "encoding": {"x": {"field": "x2", "type": "quantitative"}, "y": {"field": "y", "type": "quantitative"}}},
    {"mark": {"type": "text", "font": "DejaVu Sans", "fontSize": 9, "align": "center", "baseline": "alphabetic", "dy": -4.5, "color": "#333333"}, "encoding": {"x": {"field": "xm", "type": "quantitative"}, "y": {"field": "y", "type": "quantitative"}, "text": {"field": "stars"}}}
   ]},
  {"data": {"values": [{"t": "Urine albumin"}]}, "mark": {"type": "text", "align": "left", "baseline": "alphabetic", "fontSize": 13, "fontWeight": "bold", "dx": 12, "dy": -37.5, "color": "#1a1a1a"},
   "encoding": {"x": {"datum": -0.5, "type": "quantitative"}, "y": {"datum": 150, "type": "quantitative"}, "text": {"field": "t"}}},
  {"data": {"values": [{"letter": "G"}]}, "mark": {"type": "text", "align": "left", "baseline": "alphabetic", "fontSize": 18.5, "fontWeight": "bold", "dx": -47, "dy": -39, "color": "#111111"},
   "encoding": {"x": {"datum": -0.5, "type": "quantitative"}, "y": {"datum": 150, "type": "quantitative"}, "text": {"field": "letter"}}}
 ]
},
{
 "width": 499, "height": 230,
 "data": {"name": "bars"},
 "transform": [{"filter": "datum.panel == 'H'"}, {"calculate": "datum.group == 'Control' ? 0 : datum.group == 'Des' ? 1 : datum.group == 'Heat' ? 2 : 3", "as": "i"}, {"calculate": "datum.value + datum.err", "as": "hi"}],
 "layer": [
  {"mark": {"type": "bar", "width": 36, "stroke": "#4a4a4a", "strokeWidth": 1},
   "encoding": {
    "x": {"field": "i", "type": "quantitative", "scale": {"domain": [-0.55, 3.5], "range": [60, 279], "nice": false, "zero": false}, "axis": {"title": null, "offset": -20, "values": [0, 1, 2, 3], "labelExpr": "['Control','Des','Heat','Heat+Des'][datum.value]", "labelFontSize": 12}},
    "y": {"field": "value", "type": "quantitative", "scale": {"domain": [0, 200], "range": [210, 65.5], "nice": false, "zero": false}, "axis": {"title": "Urine  NGAL µg/g of Cr", "values": [0, 50, 100, 150, 200], "format": "d", "offset": -60, "labelFontSize": 12, "titleFontSize": 14.5, "titleX": -28, "titleY": 127}},
    "y2": {"datum": 0},
    "color": {"field": "group", "type": "nominal", "scale": {"domain": ["Control", "Des", "Heat", "Heat+Des", "Heat + Des"], "range": ["#ffffff", "#d7d8da", "#8e8f92", "#1d1d1f", "#1d1d1f"]}, "legend": null}
   }},
  {"transform": [{"filter": "datum.group == 'Control'"}], "mark": {"type": "bar", "width": 36, "fill": {"gradient":"linear","x1":0,"y1":0,"x2":1,"y2":0,"stops":[{"offset":0,"color":"#000"},{"offset":0.1,"color":"#000"},{"offset":0.1,"color":"#fff"},{"offset":0.2,"color":"#fff"},{"offset":0.2,"color":"#000"},{"offset":0.3,"color":"#000"},{"offset":0.3,"color":"#fff"},{"offset":0.4,"color":"#fff"},{"offset":0.4,"color":"#000"},{"offset":0.5,"color":"#000"},{"offset":0.5,"color":"#fff"},{"offset":0.6,"color":"#fff"},{"offset":0.6,"color":"#000"},{"offset":0.7,"color":"#000"},{"offset":0.7,"color":"#fff"},{"offset":0.8,"color":"#fff"},{"offset":0.8,"color":"#000"},{"offset":0.9,"color":"#000"},{"offset":0.9,"color":"#fff"},{"offset":1,"color":"#fff"}]}},
   "encoding": {"x": {"field": "i", "type": "quantitative"}, "y": {"field": "value", "type": "quantitative"}, "y2": {"datum": 0}}},
  {"transform": [{"filter": "datum.group == 'Control'"}], "mark": {"type": "rule", "stroke": "#ffffff", "strokeWidth": 36, "strokeDash": [3.6, 3.6], "blend": "difference"},
   "encoding": {"x": {"field": "i", "type": "quantitative"}, "y": {"field": "value", "type": "quantitative"}, "y2": {"datum": 0}}},
  {"transform": [{"filter": "datum.group == 'Control'"}], "mark": {"type": "bar", "width": 36, "fill": "transparent", "stroke": "#333333", "strokeWidth": 1},
   "encoding": {"x": {"field": "i", "type": "quantitative"}, "y": {"field": "value", "type": "quantitative"}, "y2": {"datum": 0}}},
  {"mark": {"type": "rule", "stroke": "#3a3a3a", "strokeWidth": 1.3},
   "encoding": {"x": {"field": "i", "type": "quantitative"}, "y": {"field": "value", "type": "quantitative"}, "y2": {"field": "hi"}}},
  {"mark": {"type": "tick", "orient": "horizontal", "size": 18, "thickness": 1.3, "color": "#3a3a3a"},
   "encoding": {"x": {"field": "i", "type": "quantitative"}, "y": {"field": "hi", "type": "quantitative"}}},
  {"data": {"name": "brackets"},
   "transform": [{"filter": "datum.panel == 'H'"}, {"calculate": "datum.from == 'Control' ? 0 : datum.from == 'Des' ? 1 : datum.from == 'Heat' ? 2 : 3", "as": "x1"}, {"calculate": "datum.to == 'Control' ? 0 : datum.to == 'Des' ? 1 : datum.to == 'Heat' ? 2 : 3", "as": "x2"}, {"calculate": "(datum.x1 + datum.x2) / 2", "as": "xm"}],
   "layer": [
    {"mark": {"type": "rule", "stroke": "#777777", "strokeWidth": 1}, "encoding": {"x": {"field": "x1", "type": "quantitative"}, "x2": {"field": "x2"}, "y": {"field": "y", "type": "quantitative"}}},
    {"mark": {"type": "tick", "orient": "vertical", "size": 4, "thickness": 1, "yOffset": 2, "color": "#777777"}, "encoding": {"x": {"field": "x1", "type": "quantitative"}, "y": {"field": "y", "type": "quantitative"}}},
    {"mark": {"type": "tick", "orient": "vertical", "size": 4, "thickness": 1, "yOffset": 2, "color": "#777777"}, "encoding": {"x": {"field": "x2", "type": "quantitative"}, "y": {"field": "y", "type": "quantitative"}}},
    {"mark": {"type": "text", "font": "DejaVu Sans", "fontSize": 9.5, "align": "center", "baseline": "alphabetic", "dy": -4.5, "color": "#333333"}, "encoding": {"x": {"field": "xm", "type": "quantitative"}, "y": {"field": "y", "type": "quantitative"}, "text": {"field": "stars"}}}
   ]},
  {"data": {"values": [{"t": "Urine NGAL"}]}, "mark": {"type": "text", "align": "left", "baseline": "alphabetic", "fontSize": 13.5, "fontWeight": "bold", "dx": 16.7, "dy": -37.5, "color": "#1a1a1a"},
   "encoding": {"x": {"datum": -0.55, "type": "quantitative"}, "y": {"datum": 200, "type": "quantitative"}, "text": {"field": "t"}}},
  {"data": {"values": [{"letter": "H"}]}, "mark": {"type": "text", "align": "left", "baseline": "alphabetic", "fontSize": 18.5, "fontWeight": "bold", "dx": -56.7, "dy": -39, "color": "#111111"},
   "encoding": {"x": {"datum": -0.55, "type": "quantitative"}, "y": {"datum": 200, "type": "quantitative"}, "text": {"field": "letter"}}}
 ]
}
]}
]
}
